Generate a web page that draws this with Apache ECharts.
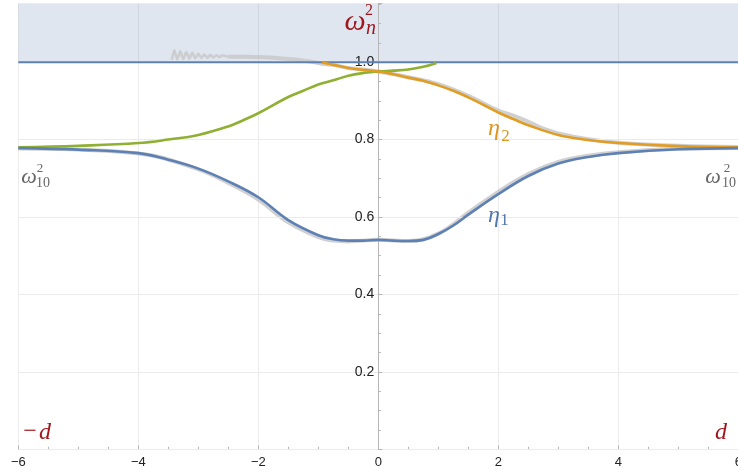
<!DOCTYPE html>
<html>
<head>
<meta charset="utf-8">
<script src="https://cdn.jsdelivr.net/npm/echarts@6/dist/echarts.min.js"></script>
<style>
  html, body { margin: 0; padding: 0; background: #fff; }
  #chart { width: 738px; height: 472px; }
</style>
</head>
<body>
<div id="chart"></div>
<script>
// Axis extents and tick spacing
const xRange = [-6, 6];
const yRange = [0, 1.152];
const xStep = 2;
const yStep = 0.2;

// Continuum threshold (shaded above)
const thresholdLevel = 1.0;

// Lower branch eta_1
const eta1X = [-6, -5, -4, -3.5, -3, -2.5, -2, -1.5, -1, -0.75, -0.5, -0.25, 0, 0.25, 0.5, 0.75, 1, 1.25, 1.5, 2, 2.5, 3, 3.5, 4, 5, 6];
const eta1Y = [0.778, 0.774, 0.765, 0.748, 0.725, 0.692, 0.651, 0.592, 0.553, 0.5426, 0.539, 0.539, 0.541, 0.539, 0.538, 0.541, 0.556, 0.578, 0.606, 0.659, 0.706, 0.738, 0.755, 0.765, 0.775, 0.778];

// Upper branch eta_2
const eta2X = [-0.94, -0.75, -0.5, -0.25, 0, 0.25, 0.5, 0.75, 1, 1.25, 1.5, 1.75, 2, 2.25, 2.5, 3, 3.5, 4, 5, 6];
const eta2Y = [0.999, 0.993, 0.985, 0.980, 0.976, 0.969, 0.960, 0.952, 0.940, 0.926, 0.909, 0.890, 0.870, 0.853, 0.837, 0.812, 0.799, 0.791, 0.783, 0.780];

// Rising branch (green)
const riseX = [-6, -5, -4, -3.5, -3, -2.5, -2.25, -2, -1.5, -1.25, -1, -0.75, -0.5, -0.25, 0, 0.25, 0.5, 0.75, 0.97];
const riseY = [0.780, 0.784, 0.791, 0.800, 0.812, 0.834, 0.850, 0.868, 0.910, 0.926, 0.942, 0.953, 0.965, 0.972, 0.976, 0.978, 0.981, 0.988, 0.998];

// Reference (grey) curve for eta_1
const refLowX = [-6, -4, -3, -2.5, -2, -1.5, -1, -0.75, -0.5, 0, 0.5, 1, 1.5, 2, 2.5, 3, 3.5, 4, 5, 6];
const refLowY = [0.777, 0.764, 0.723, 0.688, 0.645, 0.586, 0.548, 0.539, 0.537, 0.541, 0.538, 0.557, 0.611, 0.665, 0.711, 0.742, 0.758, 0.767, 0.776, 0.778];

// Reference (grey) ripple just above the threshold
const rippleX = [-3.44, -3.40, -3.35, -3.30, -3.25, -3.20, -3.15, -3.10, -3.05, -3.00, -2.95, -2.90, -2.85, -2.80, -2.75, -2.70, -2.65, -2.60, -2.50];
const rippleY = [1.006, 1.031, 1.007, 1.028, 1.008, 1.026, 1.009, 1.024, 1.010, 1.022, 1.011, 1.020, 1.011, 1.019, 1.012, 1.018, 1.013, 1.017, 1.014];

// Reference (grey) curve for eta_2
const refHighX = [-2.50, -2.2, -2.0, -1.7, -1.4, -1.2, -1.0, -0.9, -0.75, -0.5, 0, 0.5, 1, 1.5, 2, 2.25, 2.5, 2.75, 3, 3.5, 4, 5, 6];
const refHighY = [1.014, 1.014, 1.013, 1.011, 1.007, 1.003, 0.998, 0.995, 0.993, 0.985, 0.976, 0.961, 0.943, 0.913, 0.875, 0.862, 0.846, 0.828, 0.816, 0.801, 0.792, 0.784, 0.781];

const zip = (xs, ys) => xs.map((x, i) => [x, ys[i]]);

const BLUE = '#5e81b5';
const ORANGE = '#e19c24';
const GREEN = '#8fb032';
const GREY = 'rgba(200,200,200,0.85)';
const DARKRED = '#a0161c';
const SERIF = '"Liberation Serif", "DejaVu Serif", serif';
const SANS = '"Liberation Sans", Arial, sans-serif';

const chart = echarts.init(document.getElementById('chart'), null, { renderer: 'canvas' });

function txt(text, x, y, size, color, italic) {
  return {
    type: 'text', x: x, y: y, z: 100,
    style: {
      text: text,
      font: (italic ? 'italic ' : '') + size + 'px ' + SERIF,
      fill: color, align: 'center', verticalAlign: 'middle'
    }
  };
}

// pixels per x unit, used to place the vertical axis at x = 0
const plotLeft = 18.3, plotRight = 738.3;
const yAxisShift = -(0 - xRange[0]) * (plotRight - plotLeft) / (xRange[1] - xRange[0]);

const option = {
  animation: false,
  backgroundColor: '#ffffff',
  grid: { left: plotLeft, right: 738 - plotRight, top: 3.3, bottom: 22.7, outerBoundsMode: 'none', containLabel: false },
  xAxis: {
    type: 'value', min: xRange[0], max: xRange[1], interval: xStep,
    axisLine: { onZero: false, lineStyle: { color: '#b5b5b5', width: 1 } },
    axisTick: { inside: true, length: 4, lineStyle: { color: '#b5b5b5' } },
    minorTick: { show: true, splitNumber: 4, length: 2.5, lineStyle: { color: '#b5b5b5' } },
    splitLine: { show: true, lineStyle: { color: '#ebebeb', width: 1 } },
    axisLabel: {
      margin: 7, fontSize: 13, color: '#222', fontFamily: SANS,
      hideOverlap: false, showMinLabel: true, showMaxLabel: true,
      formatter: v => String(v).replace('-', '\u2212')
    }
  },
  yAxis: {
    type: 'value', min: yRange[0], max: yRange[1], interval: yStep, z: 3,
    offset: yAxisShift,
    axisLine: { onZero: false, lineStyle: { color: '#b5b5b5', width: 1 } },
    axisTick: { inside: true, length: 4, lineStyle: { color: '#b5b5b5' } },
    minorTick: { show: true, splitNumber: 4, length: 2.5, lineStyle: { color: '#b5b5b5' } },
    splitLine: { show: true, lineStyle: { color: '#ebebeb', width: 1 } },
    axisLabel: {
      margin: 4, fontSize: 14, color: '#222', fontFamily: SANS,
      showMaxLabel: false,
      formatter: v => (v <= 0 ? '' : v.toFixed(1))
    }
  },
  series: [
    {
      type: 'line', name: 'threshold', symbol: 'none', z: 4,
      data: zip(xRange, [thresholdLevel, thresholdLevel]),
      lineStyle: { color: BLUE, width: 2 },
      markArea: {
        silent: true,
        itemStyle: { color: 'rgba(94,129,181,0.2)' },
        data: [[{ yAxis: thresholdLevel }, { yAxis: yRange[1] }]]
      }
    },
    {
      type: 'line', name: 'ripple', symbol: 'none', smooth: 0.2, z: 2,
      data: zip(rippleX, rippleY), lineStyle: { color: GREY, width: 2.5 }
    },
    {
      type: 'line', name: 'ref high', symbol: 'none', smooth: 0.4, z: 2,
      data: zip(refHighX, refHighY), lineStyle: { color: GREY, width: 4 }
    },
    {
      type: 'line', name: 'ref low', symbol: 'none', smooth: 0.4, z: 2,
      data: zip(refLowX, refLowY), lineStyle: { color: GREY, width: 4 }
    },
    {
      type: 'line', name: 'rise', symbol: 'none', smooth: 0.4, z: 5,
      data: zip(riseX, riseY), lineStyle: { color: GREEN, width: 2.6 }
    },
    {
      type: 'line', name: 'eta2', symbol: 'none', smooth: 0.4, z: 5,
      data: zip(eta2X, eta2Y), lineStyle: { color: ORANGE, width: 2.6 }
    },
    {
      type: 'line', name: 'eta1', symbol: 'none', smooth: 0.4, z: 5,
      data: zip(eta1X, eta1Y), lineStyle: { color: BLUE, width: 2.6 }
    }
  ],
  graphic: [
    // omega_n^2 (vertical axis title)
    txt('\u03c9', 355, 22, 30, DARKRED, true),
    txt('2', 369, 11, 16, DARKRED, false),
    txt('n', 371, 29, 20, DARKRED, true),
    // omega_10^2 asymptote markers
    txt('\u03c9', 29, 177, 22, '#666', true),
    txt('2', 40, 169, 13, '#666', false),
    txt('10', 43, 183, 14, '#666', false),
    txt('\u03c9', 713, 177, 22, '#666', true),
    txt('2', 727, 169, 13, '#666', false),
    txt('10', 729, 183, 14, '#666', false),
    // branch names
    txt('\u03b7', 494, 129, 24, '#dc951f', true),
    txt('2', 505.5, 137, 17, '#dc951f', false),
    txt('\u03b7', 494, 216, 24, '#5277ad', true),
    txt('1', 504.5, 221, 17, '#5277ad', false),
    // -d and d markers
    txt('\u2212', 30, 432, 24, DARKRED, false),
    txt('d', 45, 433, 24, DARKRED, true),
    txt('d', 721, 433, 24, DARKRED, true)
  ]
};

chart.setOption(option);
</script>
</body>
</html>
